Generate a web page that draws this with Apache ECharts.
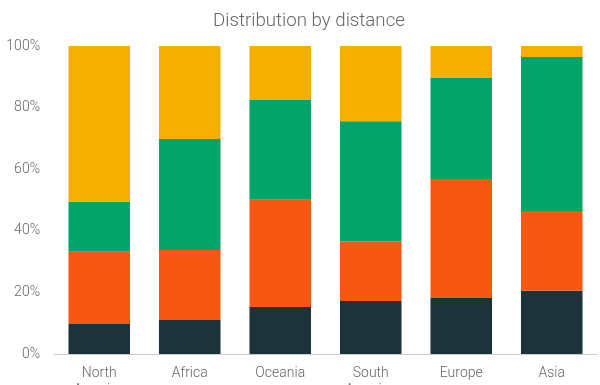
<!DOCTYPE html>
<html>
<head>
<meta charset="utf-8">
<script src="https://cdn.jsdelivr.net/npm/echarts@6/dist/echarts.min.js"></script>
<style>html,body{margin:0;padding:0;background:#fff}#c{width:600px;height:385px}</style>
</head>
<body>
<div id="c"></div>
<script>
var categories = ["North America", "Africa", "Oceania", "South America", "Europe", "Asia"];
var seriesNames = ["Near", "Medium", "Far", "Very far"];
var nearValues = [9.7, 11.0, 15.3, 17.2, 18.2, 20.5];
var mediumValues = [23.5, 22.8, 34.8, 19.3, 38.6, 25.9];
var farValues = [16.2, 36.0, 32.4, 39.1, 32.8, 50.0];
var veryFarValues = [50.6, 30.2, 17.5, 24.4, 10.4, 3.6];
var yTicks = [0, 20, 40, 60, 80, 100];

var colors = ["#1c333a", "#f65812", "#02a46a", "#f6af00"];
var valueSets = [nearValues, mediumValues, farValues, veryFarValues];

var chart = echarts.init(document.getElementById('c'), null, {renderer: 'canvas'});
var font = 'Roboto';
chart.setOption({
  animation: false,
  color: colors,
  title: {
    text: 'Distribution by distance',
    left: 208,
    top: 7,
    textStyle: {fontFamily: font, fontWeight: 300, fontSize: 18.7, color: '#666'}
  },
  grid: {left: 54, right: 3, top: 46, bottom: 31, containLabel: false, outerBoundsMode: 'none'},
  xAxis: {
    type: 'category',
    data: categories,
    axisLine: {lineStyle: {color: '#ccc', width: 1}},
    axisTick: {show: false},
    axisLabel: {
      fontFamily: font, fontWeight: 300, fontSize: 14, color: '#666', margin: 11, lineHeight: 17,
      formatter: function (v) { return v.replace(' ', '\n'); }
    }
  },
  yAxis: {
    type: 'value',
    min: yTicks[0],
    max: yTicks[yTicks.length - 1],
    interval: 20,
    splitLine: {show: false},
    axisLine: {show: false},
    axisTick: {show: false},
    axisLabel: {fontFamily: font, fontWeight: 300, fontSize: 14, color: '#666', margin: 14,
      formatter: function (v) { return v + '%'; }}
  },
  series: seriesNames.map(function (n, i) {
    return {
      name: n,
      type: 'bar',
      stack: 'total',
      barCategoryGap: '32%',
      data: valueSets[i],
      itemStyle: {color: colors[i]}
    };
  })
});
</script>
</body>
</html>
